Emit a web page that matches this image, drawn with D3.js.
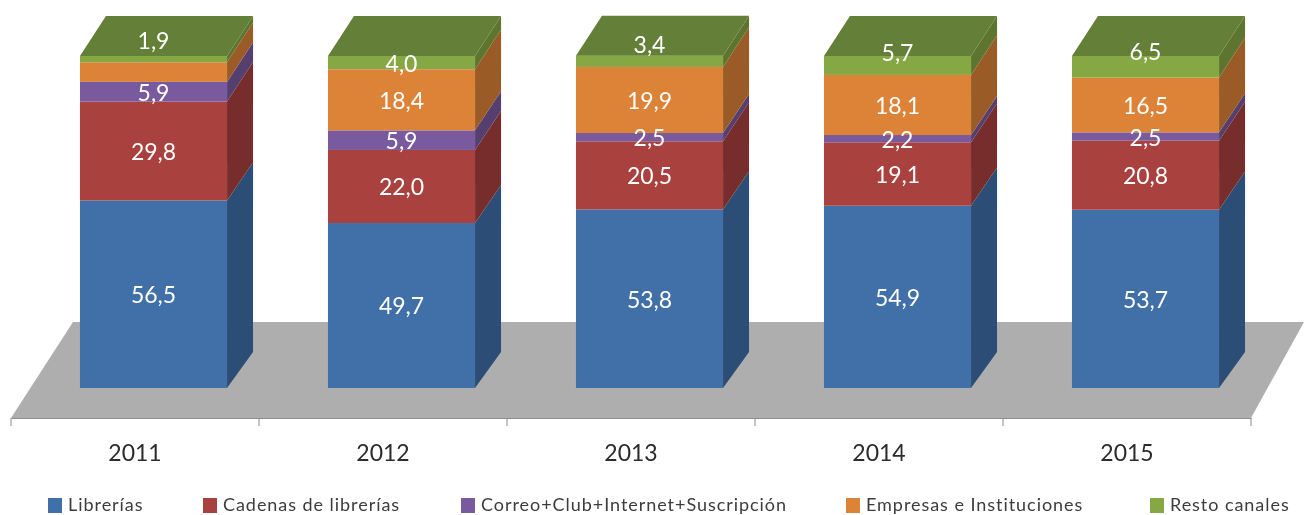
<!DOCTYPE html>
<html>
<head>
<meta charset="utf-8">
<script src="https://cdn.jsdelivr.net/npm/d3@7"></script>
<style>
  html, body { margin: 0; background: #fff; }
  svg { display: block; font-family: Lato, sans-serif; filter: blur(0.6px); }
  .legend text { font-size: 18px; letter-spacing: 0.95px; fill: #3c3c3c; }
  .value { font-size: 23px; fill: #fff; text-anchor: middle; dominant-baseline: central; }
</style>
</head>
<body>
<svg id="chart" width="1304" height="515"></svg>
<script>
const years = ['2011', '2012', '2013', '2014', '2015'];
const seriesNames = ['Librerías', 'Cadenas de librerías', 'Correo+Club+Internet+Suscripción', 'Empresas e Instituciones', 'Resto canales'];

const librerias = [56.5, 49.7, 53.8, 54.9, 53.7];
const cadenas = [29.8, 22.0, 20.5, 19.1, 20.8];
const correo = [5.9, 5.9, 2.5, 2.2, 2.5];
const empresas = [5.9, 18.4, 19.9, 18.1, 16.5];
const resto = [1.9, 4.0, 3.4, 5.7, 6.5];

const frontColors = ['#4170a8', '#a9413e', '#7a5a9f', '#dd8338', '#86a844'];
const sideColors = ['#2c4d75', '#762d2b', '#553f6f', '#9a5b27', '#5d752f'];
const topColor = '#647f38';
const floorColor = '#aeaeae';

// the Resto labels were dragged up onto the top face in the original
const restoLabelShift = [-19, 0, -17, -13, -16];
// 2011 Empresas has no label in the original
const hiddenLabels = [[0, 3]];
const legendX = [48, 203, 461, 846, 1150];

const svg = d3.select('#chart');
const series = [librerias, cadenas, correo, empresas, resto];

const floorLeft = 11, floorRight = 1251, floorFront = 418, floorBack = 322, floorSkew = 62;

// axis runs along the floor's front edge, bars sit further back on it
const xAxisScale = d3.scaleBand().domain(years).range([floorLeft, floorRight]);
const xBar = d3.scaleBand().domain(years)
  .range([floorLeft + 18.5, floorRight + 18.5])
  .paddingInner(0.407).paddingOuter(0.2035);
const depthX = 26;

const yFront = d3.scaleLinear().domain([0, 100]).range([388, 56]);
const yBack = d3.scaleLinear().domain([0, 100]).range([352, 16]);

svg.append('polygon')
  .attr('fill', floorColor)
  .attr('points', [
    [floorLeft, floorFront], [floorRight, floorFront],
    [floorRight + 53, floorBack], [floorLeft + floorSkew, floorBack]
  ].join(' '));

const axis = svg.append('g').attr('class', 'axis')
  .attr('transform', `translate(0,${floorFront})`)
  .call(d3.axisBottom(xAxisScale).tickSize(0).tickPadding(27));
axis.select('.domain').attr('stroke', '#8c8c8c');
axis.selectAll('line.edge')
  .data([...years.map(y => xAxisScale(y)), floorRight])
  .join('line')
  .attr('class', 'edge')
  .attr('x1', d => d).attr('x2', d => d)
  .attr('y1', 0).attr('y2', 8)
  .attr('stroke', '#8c8c8c');
axis.selectAll('.tick text')
  .style('font-family', 'Lato, sans-serif')
  .style('font-size', '23px')
  .style('fill', '#2b2b2b');

const bars = svg.append('g').selectAll('g')
  .data(years)
  .join('g');

bars.each(function (year, i) {
  const g = d3.select(this);
  const x0 = xBar(year), w = xBar.bandwidth();
  let cum = 0;
  series.forEach((values, s) => {
    const lo = cum, hi = cum + values[i];
    cum = hi;
    g.append('polygon').attr('fill', sideColors[s]).attr('points', [
      [x0 + w, yFront(lo)], [x0 + w + depthX, yBack(lo)],
      [x0 + w + depthX, yBack(hi)], [x0 + w, yFront(hi)]
    ].join(' '));
    g.append('rect').attr('fill', frontColors[s])
      .attr('x', x0).attr('width', w)
      .attr('y', yFront(hi)).attr('height', yFront(lo) - yFront(hi));
  });
  g.append('polygon').attr('fill', topColor).attr('points', [
    [x0, yFront(cum)], [x0 + w, yFront(cum)],
    [x0 + w + depthX, yBack(cum)], [x0 + depthX, yBack(cum)]
  ].join(' '));

  cum = 0;
  series.forEach((values, s) => {
    const lo = cum, hi = cum + values[i];
    cum = hi;
    if (hiddenLabels.some(([a, b]) => a === i && b === s)) return;
    const shift = s === 4 ? restoLabelShift[i] : 0;
    g.append('text').attr('class', 'value')
      .attr('x', x0 + w / 2)
      .attr('y', (yFront(lo) + yFront(hi)) / 2 + shift)
      .text(values[i].toFixed(1).replace('.', ','));
  });
});

const legend = svg.append('g').attr('class', 'legend').selectAll('g')
  .data(seriesNames)
  .join('g')
  .attr('transform', (d, i) => `translate(${legendX[i]},498)`);
legend.append('rect').attr('width', 14).attr('height', 15).attr('fill', (d, i) => frontColors[i]);
legend.append('text').attr('x', 20).attr('y', 6).attr('dominant-baseline', 'central').text(d => d);
</script>
</body>
</html>
